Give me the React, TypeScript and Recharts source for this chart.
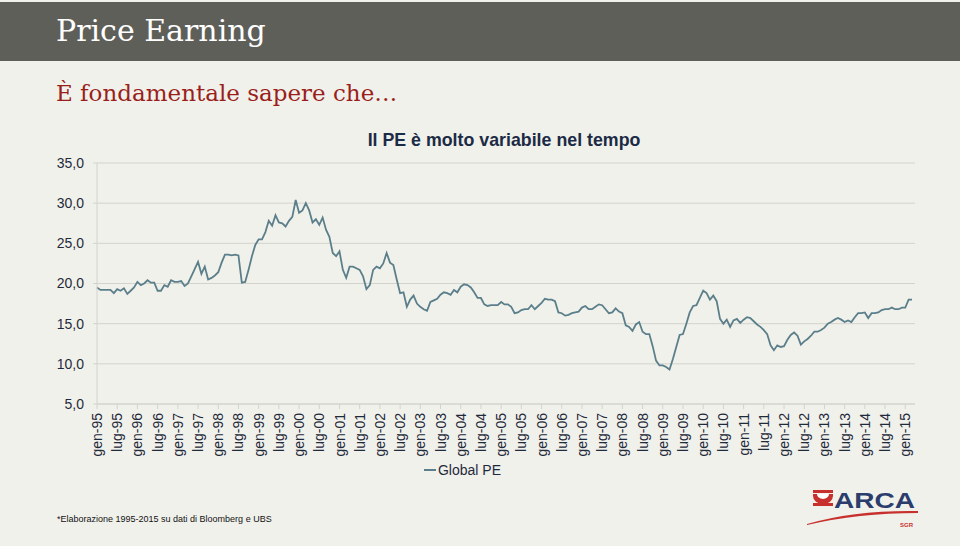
import React from 'react';
import { LineChart, Line, XAxis, YAxis, CartesianGrid } from 'recharts';

const monthNames = ['gen', 'feb', 'mar', 'apr', 'mag', 'giu', 'lug', 'ago', 'set', 'ott', 'nov', 'dic'];
const startYear = 1995;
const pointCount = 243;

const globalPE: number[] = [
  19.5, 19.2, 19.2, 19.2, 19.2, 18.8, 19.3, 19.1, 19.4, 18.7, 19.1, 19.5,
  20.2, 19.8, 20.0, 20.4, 20.1, 20.1, 19.1, 19.1, 19.8, 19.6, 20.4, 20.2,
  20.2, 20.3, 19.7, 20.0, 20.9, 21.8, 22.7, 21.2, 22.1, 20.5, 20.7, 21.0,
  21.4, 22.6, 23.6, 23.6, 23.5, 23.6, 23.5, 20.1, 20.2, 21.7, 23.4, 24.8,
  25.5, 25.5, 26.4, 27.8, 27.2, 28.5, 27.6, 27.5, 27.1, 27.8, 28.3, 30.4,
  28.8, 29.1, 30.0, 29.1, 27.6, 28.0, 27.3, 28.2, 26.7, 25.8, 23.8, 23.4,
  24.0, 21.7, 20.7, 22.1, 22.1, 21.9, 21.7, 20.9, 19.3, 19.8, 21.7, 22.1,
  21.9, 22.5, 23.8, 22.6, 22.3, 20.5, 18.8, 18.9, 17.1, 18.0, 18.5, 17.5,
  17.1, 16.8, 16.6, 17.7, 17.9, 18.1, 18.6, 18.9, 18.8, 18.6, 19.2, 18.9,
  19.6, 19.9, 19.8, 19.5, 18.9, 18.2, 18.2, 17.4, 17.2, 17.3, 17.3, 17.3,
  17.7, 17.4, 17.4, 17.1, 16.3, 16.4, 16.7, 16.8, 16.8, 17.3, 16.8, 17.2,
  17.6, 18.1, 18.0, 18.0, 17.8, 16.4, 16.3, 16.0, 16.1, 16.3, 16.4, 16.5,
  17.0, 17.2, 16.8, 16.8, 17.1, 17.4, 17.3, 16.8, 16.3, 16.4, 16.9, 16.5,
  16.3, 14.8, 14.6, 14.1, 14.9, 15.2, 14.0, 13.7, 13.7, 12.2, 10.4, 9.8,
  9.8, 9.6, 9.3, 10.6, 12.1, 13.6, 13.7, 15.0, 16.4, 17.2, 17.3, 18.2,
  19.1, 18.8, 18.0, 18.5, 17.8, 15.6, 15.0, 15.5, 14.6, 15.4, 15.6, 15.1,
  15.5, 15.8, 15.7, 15.3, 14.9, 14.6, 14.2, 13.7, 12.3, 11.7, 12.3, 12.1,
  12.2, 13.0, 13.6, 13.9, 13.5, 12.4, 12.8, 13.1, 13.5, 14.0, 14.0, 14.2,
  14.5, 15.0, 15.2, 15.5, 15.7, 15.5, 15.2, 15.4, 15.2, 15.8, 16.3, 16.3,
  16.4, 15.7, 16.3, 16.3, 16.4, 16.7, 16.8, 16.8, 17.0, 16.8, 16.8, 17.0,
  17.0, 18.0, 18.0,
];

const yTicks = [5, 10, 15, 20, 25, 30, 35];

const categories: string[] = [];
for (let i = 0; i < pointCount; i++) {
  const m = i % 12;
  const y = (startYear + Math.floor(i / 12)) % 100;
  categories.push(`${monthNames[m]}-${String(y).padStart(2, '0')}`);
}

const data = categories.map((c, i) => ({ month: c, pe: globalPE[i] }));

const LINE_COLOR = '#5b7f8a';
const TEXT_COLOR = '#1f2a3a';
const GRID_COLOR = '#d3d3ce';
const BG = '#f1f1ec';

const XTick = (props: any) => {
  const { x, y, payload } = props;
  return (
    <g transform={`translate(${x},${y})`}>
      <text
        transform="rotate(-90)"
        x={-2}
        y={0}
        dy="0.36em"
        textAnchor="end"
        fontSize={14}
        fontFamily="'Liberation Sans', Arial, sans-serif"
        fill={TEXT_COLOR}
      >
        {payload.value}
      </text>
    </g>
  );
};

const ArcaLogo = () => (
  <svg width={125} height={55} style={{ position: 'absolute', left: 800, top: 480 }}>
    <rect x={13} y={10} width={20} height={3} fill="#c7302c" />
    <path d="M13,14 L33,14 L33,16 A10,8 0 0 1 13,16 Z" fill="#c7302c" />
    <path d="M17,14 L29,14 A6,5 0 0 1 17,14 Z" fill="#ffffff" />
    <rect x={13} y={23} width={20} height={3} fill="#c7302c" />
    <text
      x={34}
      y={28}
      fontSize={22}
      fontWeight="bold"
      fontFamily="'Liberation Sans', Arial, sans-serif"
      fill="#2b3d6d"
      textLength={81}
      lengthAdjust="spacingAndGlyphs"
    >
      ARCA
    </text>
    <path d="M7,44 Q55,30 118,31 L118,33 Q58,33 7,45 Z" fill="#c7302c" />
    <text x={100} y={47} fontSize={6} fontWeight="bold" fontFamily="'Liberation Sans', Arial, sans-serif" fill="#c7302c">
      SGR
    </text>
  </svg>
);

export default function App() {
  return (
    <div
      style={{
        position: 'absolute',
        left: 0,
        top: 0,
        width: 960,
        height: 546,
        background: BG,
        overflow: 'hidden',
      }}
    >
      <div style={{ position: 'absolute', left: 0, top: 2, width: 960, height: 59, background: '#5f5f5a' }} />
      <div
        style={{
          position: 'absolute',
          left: 56,
          top: 12,
          fontFamily: "'DejaVu Serif', serif",
          fontSize: 30,
          color: '#ffffff',
          lineHeight: '38px',
          whiteSpace: 'nowrap',
        }}
      >
        Price Earning
      </div>
      <div
        style={{
          position: 'absolute',
          left: 56,
          top: 78,
          fontFamily: "'DejaVu Serif', serif",
          fontSize: 23,
          color: '#9a1f1b',
          lineHeight: '30px',
          whiteSpace: 'nowrap',
        }}
      >
        È fondamentale sapere che…
      </div>
      <div
        style={{
          position: 'absolute',
          left: 97,
          width: 814,
          top: 129,
          textAlign: 'center',
          fontFamily: "'Liberation Sans', Arial, sans-serif",
          fontWeight: 'bold',
          fontSize: 17.8,
          color: '#1c2b45',
          lineHeight: '22px',
        }}
      >
        Il PE è molto variabile nel tempo
      </div>
      <div style={{ position: 'absolute', left: 0, top: 0 }}>
        <LineChart width={960} height={546} data={data} margin={{ top: 163, right: 45, bottom: 0, left: 0 }}>
          <CartesianGrid vertical={false} horizontal={true} stroke={GRID_COLOR} strokeWidth={1} />
          <XAxis
            dataKey="month"
            interval={5}
            height={142}
            padding={{ left: 0, right: 3 }}
            tick={<XTick />}
            tickSize={5}
            tickMargin={2}
            axisLine={{ stroke: GRID_COLOR }}
            tickLine={{ stroke: GRID_COLOR }}
          />
          <YAxis
            width={97}
            domain={[5, 35]}
            ticks={yTicks}
            interval={0}
            tickFormatter={(v: number) => v.toFixed(1).replace('.', ',')}
            tick={{ fontSize: 14, fill: TEXT_COLOR, fontFamily: "'Liberation Sans', Arial, sans-serif" }}
            tickSize={4}
            tickMargin={9}
            axisLine={{ stroke: GRID_COLOR }}
            tickLine={{ stroke: GRID_COLOR }}
          />
          <Line
            type="linear"
            dataKey="pe"
            name="Global PE"
            stroke={LINE_COLOR}
            strokeWidth={1.8}
            dot={false}
            activeDot={false}
            isAnimationActive={false}
          />
        </LineChart>
      </div>
      <div
        style={{
          position: 'absolute',
          left: 0,
          top: 461,
          width: 960,
          display: 'flex',
          justifyContent: 'center',
          fontFamily: "'Liberation Sans', Arial, sans-serif",
          fontSize: 14,
          color: TEXT_COLOR,
          lineHeight: '18px',
        }}
      >
        <div style={{ marginLeft: -35, display: 'flex', alignItems: 'center' }}>
          <span style={{ display: 'inline-block', width: 12, height: 2, background: LINE_COLOR, marginRight: 2 }} />
          <span>Global PE</span>
        </div>
      </div>
      <div
        style={{
          position: 'absolute',
          left: 57,
          top: 513,
          fontFamily: "'Liberation Sans', Arial, sans-serif",
          fontSize: 9,
          color: '#111111',
          whiteSpace: 'nowrap',
          lineHeight: '12px',
        }}
      >
        *Elaborazione 1995-2015 su dati di Bloomberg e UBS
      </div>
      <ArcaLogo />
    </div>
  );
}
